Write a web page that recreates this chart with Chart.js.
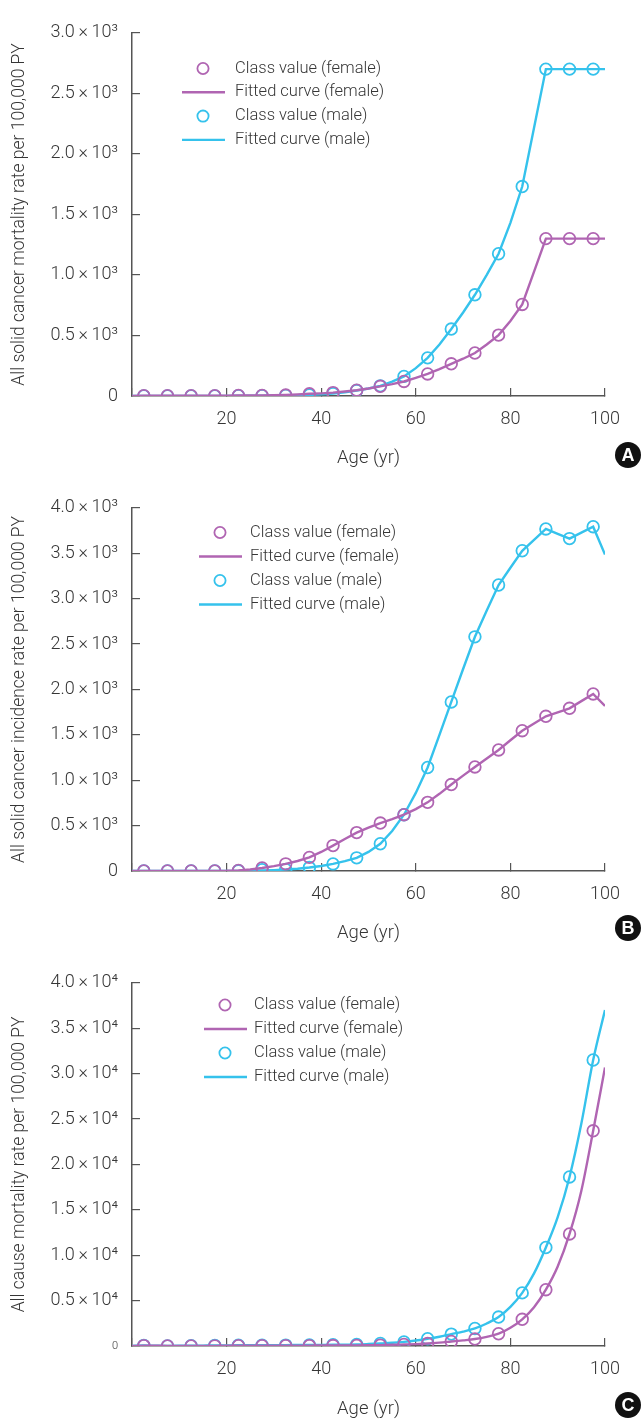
<!DOCTYPE html>
<html>
<head>
<meta charset="utf-8">
<script src="https://cdn.jsdelivr.net/npm/chart.js@4/dist/chart.umd.min.js"></script>
<style>
  html, body { margin: 0; padding: 0; background: #ffffff; }
  .panel { position: relative; width: 643px; }
  #panelA, #panelB { height: 475px; }
  #panelC { height: 470px; }
</style>
</head>
<body>
<div class="panel" id="panelA"><canvas id="chartA"></canvas></div>
<div class="panel" id="panelB"><canvas id="chartB"></canvas></div>
<div class="panel" id="panelC"><canvas id="chartC"></canvas></div>
<script>
// Age classes (midpoints of 5-year groups) and ages where the fitted curves are sampled
const classAges = [2.5, 7.5, 12.5, 17.5, 22.5, 27.5, 32.5, 37.5, 42.5, 47.5, 52.5, 57.5, 62.5, 67.5, 72.5, 77.5, 82.5, 87.5, 92.5, 97.5];
const fitAges = [0, 2.5, 5, 7.5, 10, 12.5, 15, 17.5, 20, 22.5, 25, 27.5, 30, 32.5, 35, 37.5, 40, 42.5, 45, 47.5, 50, 52.5, 55, 57.5, 60, 62.5, 65, 67.5, 70, 72.5, 75, 77.5, 80, 82.5, 85, 87.5, 90, 92.5, 95, 97.5, 100];

// A: all solid cancer mortality
const mortFemaleClass = [3, 3, 3, 3, 4, 5, 8, 18, 28, 48, 80, 120, 182, 266, 355, 503, 756, 1300, 1300, 1300];
const mortMaleClass = [1, 1, 1, 1, 2, 3, 5, 9, 20, 45, 84, 162, 315, 553, 836, 1175, 1730, 2700, 2700, 2700];
const mortFemaleFit = [0, 3, 3, 3, 3, 3, 3, 3, 3, 4, 4, 5, 6, 8, 12, 18, 22, 28, 37, 48, 62, 80, 98, 120, 150, 182, 222, 266, 308, 355, 425, 503, 620, 756, 1028, 1300, 1300, 1300, 1300, 1300, 1300];
const mortMaleFit = [0, 1, 1, 1, 1, 1, 1, 1, 1, 2, 2, 3, 4, 5, 7, 9, 13, 20, 30, 45, 62, 84, 118, 162, 230, 315, 425, 553, 690, 836, 1000, 1175, 1430, 1730, 2215, 2700, 2700, 2700, 2700, 2700, 2700];

// B: all solid cancer incidence
const incFemaleClass = [0, 0, 0, 1, 6, 33, 79, 150, 280, 423, 528, 620, 756, 952, 1146, 1333, 1545, 1704, 1792, 1950];
const incMaleClass = [0, 0, 0, 0, 2, 14, 18, 38, 78, 145, 300, 620, 1140, 1862, 2579, 3150, 3527, 3767, 3661, 3792];
const incFemaleFit = [0, 0, 0, 0, 0, 0, 0, 1, 2, 6, 16, 33, 54, 79, 110, 150, 210, 280, 352, 423, 478, 528, 572, 620, 682, 756, 850, 952, 1050, 1146, 1240, 1333, 1440, 1545, 1625, 1704, 1748, 1792, 1871, 1950, 1817];
const incMaleFit = [0, 0, 0, 0, 0, 0, 0, 0, 0, 0, 0, 5, 10, 16, 25, 38, 55, 78, 108, 145, 210, 300, 440, 620, 860, 1140, 1500, 1862, 2225, 2579, 2870, 3150, 3340, 3527, 3647, 3767, 3714, 3661, 3727, 3792, 3485];

// C: all cause mortality
const allFemaleClass = [45, 10, 12, 18, 25, 30, 36, 45, 52, 62, 100, 170, 270, 495, 765, 1350, 2940, 6200, 12340, 23700];
const allMaleClass = [55, 15, 30, 60, 80, 90, 100, 110, 130, 170, 280, 450, 800, 1310, 1930, 3190, 5850, 10850, 18620, 31500];
const allFemaleFit = [0, 45, 25, 10, 10, 12, 15, 18, 20, 25, 28, 30, 33, 36, 40, 45, 48, 52, 56, 62, 78, 100, 130, 170, 210, 270, 370, 495, 620, 765, 1010, 1350, 2000, 2940, 4270, 6200, 8750, 12340, 17100, 23700, 30670];
const allMaleFit = [0, 55, 30, 15, 20, 30, 45, 60, 70, 80, 85, 90, 95, 100, 105, 110, 118, 130, 148, 170, 220, 280, 350, 450, 600, 800, 1020, 1310, 1580, 1930, 2480, 3190, 4300, 5850, 8000, 10850, 14200, 18620, 24500, 31500, 37000];

// Tick labels
const xTickLabels = ['', '20', '40', '60', '80', '100'];
const yTicksA = ['0', '0.5\u2009\u00d7\u200910\u00b3', '1.0\u2009\u00d7\u200910\u00b3', '1.5\u2009\u00d7\u200910\u00b3', '2.0\u2009\u00d7\u200910\u00b3', '2.5\u2009\u00d7\u200910\u00b3', '3.0\u2009\u00d7\u200910\u00b3'];
const yTicksB = ['0', '0.5\u2009\u00d7\u200910\u00b3', '1.0\u2009\u00d7\u200910\u00b3', '1.5\u2009\u00d7\u200910\u00b3', '2.0\u2009\u00d7\u200910\u00b3', '2.5\u2009\u00d7\u200910\u00b3', '3.0\u2009\u00d7\u200910\u00b3', '3.5\u2009\u00d7\u200910\u00b3', '4.0\u2009\u00d7\u200910\u00b3'];
const yTicksC = ['0', '0.5\u2009\u00d7\u200910\u2074', '1.0\u2009\u00d7\u200910\u2074', '1.5\u2009\u00d7\u200910\u2074', '2.0\u2009\u00d7\u200910\u2074', '2.5\u2009\u00d7\u200910\u2074', '3.0\u2009\u00d7\u200910\u2074', '3.5\u2009\u00d7\u200910\u2074', '4.0\u2009\u00d7\u200910\u2074'];
const seriesLabels = ['Class value (female)', 'Fitted curve (female)', 'Class value (male)', 'Fitted curve (male)'];

const FEMALE = '#b065b2';
const MALE = '#35c2ec';
const TEXT = '#363636';
const AXIS = '#555555';
const FONT = "Roboto, 'Liberation Sans', Arial, sans-serif";

function pairs(xs, ys) { return xs.map((x, i) => ({ x: x, y: ys[i] })); }

// Legend drawn inside the plot, plus the circled panel letter
const panelDecor = {
  id: 'panelDecor',
  afterDraw(chart, args, opts) {
    const ctx = chart.ctx;
    ctx.save();
    chart.data.datasets.forEach((ds, i) => {
      const y = opts.legendY + i * opts.legendDy;
      ctx.strokeStyle = ds.borderColor;
      if (ds.showLine === false) {
        ctx.lineWidth = 1.8;
        ctx.beginPath();
        ctx.arc(opts.legendX, y, 5.6, 0, Math.PI * 2);
        ctx.stroke();
      } else {
        ctx.lineWidth = 2.4;
        ctx.beginPath();
        ctx.moveTo(opts.legendX - 21, y);
        ctx.lineTo(opts.legendX + 22, y);
        ctx.stroke();
      }
      ctx.fillStyle = TEXT;
      ctx.font = '300 16.5px ' + FONT;
      ctx.textBaseline = 'middle';
      ctx.textAlign = 'left';
      ctx.fillText(ds.label, opts.textX, y);
    });
    ctx.fillStyle = '#111111';
    ctx.beginPath();
    ctx.arc(opts.badgeX, opts.badgeY, 13, 0, Math.PI * 2);
    ctx.fill();
    ctx.fillStyle = '#ffffff';
    ctx.font = "bold 18px 'Liberation Sans', Arial, sans-serif";
    ctx.textAlign = 'center';
    ctx.textBaseline = 'middle';
    ctx.fillText(opts.letter, opts.badgeX, opts.badgeY + 1);
    ctx.restore();
  }
};

function makePanel(id, cfg) {
  const pointSet = (label, vals, color) => ({
    label: label, data: pairs(classAges, vals), showLine: false,
    borderColor: color, backgroundColor: 'rgba(0,0,0,0)',
    pointStyle: 'circle', pointRadius: 5.8, pointHoverRadius: 5.8,
    pointBorderWidth: 1.8, pointBorderColor: color, pointBackgroundColor: 'rgba(0,0,0,0)'
  });
  const lineSet = (label, vals, color) => ({
    label: label, data: pairs(fitAges, vals), borderColor: color,
    backgroundColor: color, borderWidth: 2.4, pointRadius: 0, fill: false,
    tension: 0, cubicInterpolationMode: cfg.smooth ? 'monotone' : 'default'
  });
  const axisGrid = { display: true, drawOnChartArea: false, drawTicks: true, tickLength: -8, color: AXIS, lineWidth: 1.2 };
  const axisBorder = { display: true, color: AXIS, width: 1.5 };
  return new Chart(document.getElementById(id), {
    type: 'line',
    data: {
      datasets: [
        pointSet(seriesLabels[0], cfg.femaleClass, FEMALE),
        lineSet(seriesLabels[1], cfg.femaleFit, FEMALE),
        pointSet(seriesLabels[2], cfg.maleClass, MALE),
        lineSet(seriesLabels[3], cfg.maleFit, MALE)
      ]
    },
    options: {
      responsive: true,
      maintainAspectRatio: false,
      animation: false,
      devicePixelRatio: 1,
      events: [],
      layout: { padding: { left: 0, right: 38, top: cfg.padTop, bottom: cfg.padBottom } },
      plugins: {
        legend: { display: false },
        tooltip: { enabled: false },
        panelDecor: cfg.decor
      },
      scales: {
        x: {
          type: 'linear', min: 0, max: 100,
          afterFit: s => { s.height = cfg.xHeight; },
          ticks: {
            stepSize: 20, autoSkip: false, maxRotation: 0, padding: 21, color: TEXT,
            font: { family: FONT, size: 18, weight: '300' },
            callback: (v, i) => xTickLabels[i]
          },
          grid: axisGrid,
          border: axisBorder,
          title: { display: true, text: 'Age (yr)', color: TEXT, padding: { top: 0, bottom: 0 },
                   font: { family: FONT, size: 18.5, weight: '300' } }
        },
        y: {
          type: 'linear', min: 0, max: cfg.yMax,
          afterFit: s => { s.width = 132; },
          ticks: {
            stepSize: cfg.yStep, autoSkip: false, padding: 22, color: TEXT,
            font: ctx => ({ family: FONT, size: (cfg.smallZero && ctx.tick && ctx.tick.value === 0) ? 11 : 18, weight: '300' }),
            callback: (v, i) => cfg.yTicks[i]
          },
          grid: axisGrid,
          border: axisBorder,
          title: { display: true, text: cfg.yTitle, color: TEXT, padding: { top: 9.5, bottom: 0 },
                   font: { family: FONT, size: 17.5, weight: '300' } }
        }
      }
    },
    plugins: [panelDecor]
  });
}

makePanel('chartA', {
  femaleClass: mortFemaleClass, femaleFit: mortFemaleFit, maleClass: mortMaleClass, maleFit: mortMaleFit,
  yMax: 3000, yStep: 500, yTicks: yTicksA, yTitle: 'All solid cancer mortality rate per 100,000 PY',
  padTop: 18, padBottom: 6, xHeight: 73,
  decor: { legendX: 203, legendY: 68.5, legendDy: 23.8, textX: 235, badgeX: 628, badgeY: 455, letter: 'A' }
});
makePanel('chartB', {
  femaleClass: incFemaleClass, femaleFit: incFemaleFit, maleClass: incMaleClass, maleFit: incMaleFit,
  yMax: 4000, yStep: 500, yTicks: yTicksB, yTitle: 'All solid cancer incidence rate per 100,000 PY',
  padTop: 18, padBottom: 6, xHeight: 73,
  decor: { legendX: 220, legendY: 57.5, legendDy: 24, textX: 250, badgeX: 628, badgeY: 453, letter: 'B' }
});
makePanel('chartC', {
  femaleClass: allFemaleClass, femaleFit: allFemaleFit, maleClass: allMaleClass, maleFit: allMaleFit,
  yMax: 40000, yStep: 5000, yTicks: yTicksC, yTitle: 'All cause mortality rate per 100,000 PY', smallZero: true, smooth: true,
  padTop: 20, padBottom: 0, xHeight: 74,
  decor: { legendX: 225, legendY: 55, legendDy: 24, textX: 254, badgeX: 628, badgeY: 455, letter: 'C' }
});
</script>
</body>
</html>
